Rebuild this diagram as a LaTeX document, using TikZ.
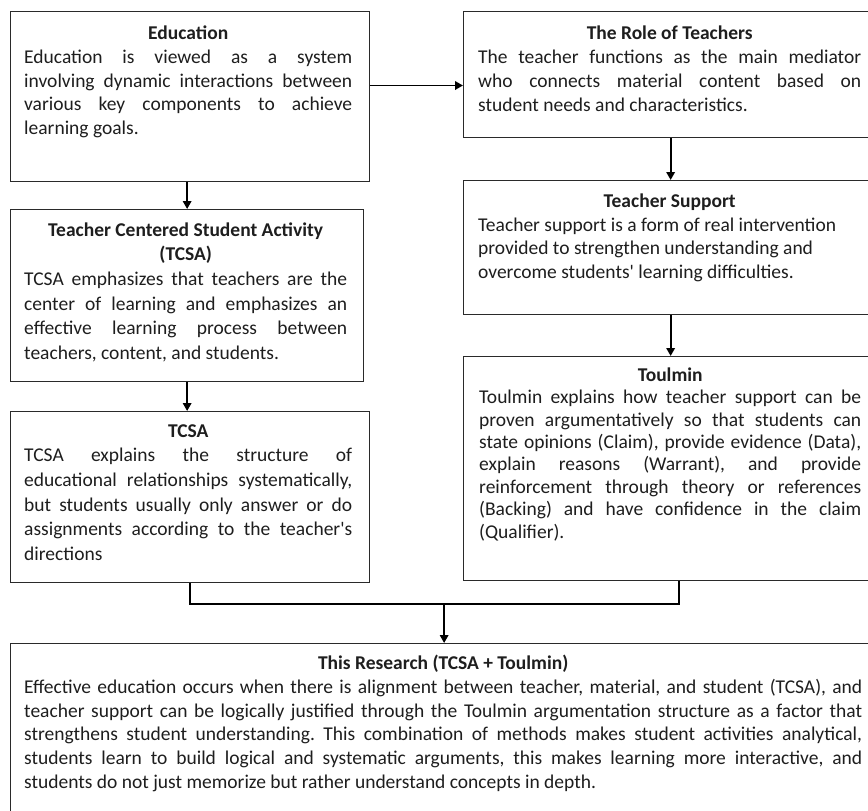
\documentclass[tikz,border=0pt]{standalone}
\usepackage{fontspec}
\setmainfont{Carlito}
\newfontfamily\plainfont{Carlito}
\usetikzlibrary{arrows.meta,calc}
\definecolor{ink}{HTML}{1E1E1E}
\definecolor{edgecol}{HTML}{2A2A2A}
\frenchspacing
\newsavebox\jbox
\newcommand{\jline}[1]{\sbox\jbox{#1}\ifdim\wd\jbox>\linewidth
  \pgfmathsetmacro\jr{\linewidth/\wd\jbox}\scalebox{\jr}[1]{\usebox\jbox}\else
  \makebox[\linewidth][s]{#1}\fi}
\newcommand{\ctitle}[1]{\makebox[\linewidth][c]{\bfseries #1}}
\newcommand{\fst}{\spaceskip=0pt\xspaceskip=0pt\relax\rule{0pt}{14pt}}
\newcommand{\apos}{{\plainfont\char"27\relax}}
\begin{document}
\begin{tikzpicture}[x=1pt,y=-1pt,
  box/.style={draw=edgecol, line width=1.3pt, fill=white, inner sep=0pt, anchor=north west},
  txt/.style={anchor=north west, inner sep=0pt, align=left, text=ink},
  conn/.style={draw=black, line width=1.8pt},
  arr/.style={conn, -{Triangle[length=8pt,width=8.5pt]}}]
\useasboundingbox (0,0) rectangle (868,811);
\fill[white] (0,0) rectangle (868,811);
\clip (0,0) rectangle (868,811);

% boxes
\node[box, minimum width=359pt, minimum height=170pt] (edu) at (10,11) {};
\node[box, minimum width=414pt, minimum height=126pt] (role) at (463,11) {};
\node[box, minimum width=353pt, minimum height=172pt] (tcsaact) at (10,209) {};
\node[box, minimum width=414pt, minimum height=134pt] (support) at (463,180) {};
\node[box, minimum width=359pt, minimum height=171pt] (tcsa) at (10,411) {};
\node[box, minimum width=414pt, minimum height=224pt] (toulmin) at (463,356) {};
\node[box, minimum width=867pt, minimum height=190pt] (research) at (10,643) {};

% texts
\node[txt, text width=328pt, font=\fontsize{19.5}{23.75}\selectfont] (edut) at (24,25.5) {%
\fst\ctitle{Education}\\
\jline{Education is viewed as a system}\\
\jline{involving dynamic interactions between}\\
\jline{various key components to achieve}\\
learning goals.};

\node[txt, text width=383pt, font=\fontsize{19.5}{24}\selectfont] (rolet) at (478,25.5) {%
\fst\ctitle{The Role of Teachers}\\
\jline{The teacher functions as the main mediator}\\
\jline{who connects material content based on}\\
student needs and characteristics.};

\node[txt, text width=383pt, font=\fontsize{19.5}{23.6}\selectfont] (supportt) at (478,193.5) {%
\fst\ctitle{Teacher Support}\\
Teacher support is a form of real intervention\\
provided to strengthen understanding and\\
overcome students\apos\ learning difficulties.};

\node[txt, text width=382pt, font=\fontsize{19.5}{22.4}\selectfont] (toulmint) at (479,367) {%
\fst\ctitle{Toulmin}\\
\jline{Toulmin explains how teacher support can be}\\
\jline{proven argumentatively so that students can}\\
\jline{state opinions (Claim), provide evidence (Data),}\\
\jline{explain reasons (Warrant), and provide}\\
\jline{reinforcement through theory or references}\\
\jline{(Backing) and have confidence in the claim}\\
(Qualifier).};

\node[txt, text width=323pt, font=\fontsize{19.5}{24.6}\selectfont] (tcsaactt) at (24,222) {%
\fst\ctitle{Teacher Centered Student Activity}\\
\ctitle{(TCSA)}\\
\jline{TCSA emphasizes that teachers are the}\\
\jline{center of learning and emphasizes an}\\
\jline{effective learning process between}\\
teachers, content, and students.};

\node[txt, text width=328pt, font=\fontsize{19.5}{24.6}\selectfont] (tcsat) at (24,423) {%
\fst\ctitle{TCSA}\\
\jline{TCSA explains the structure of}\\
\jline{educational relationships systematically,}\\
\jline{but students usually only answer or do}\\
\jline{assignments according to the teacher\apos s}\\
directions};

\node[txt, text width=838pt, font=\fontsize{19.5}{23.75}\selectfont] (researcht) at (24,655) {%
\fst\ctitle{This Research (TCSA + Toulmin)}\\
\jline{Effective education occurs when there is alignment between teacher, material, and student (TCSA), and}\\
\jline{teacher support can be logically justified through the Toulmin argumentation structure as a factor that}\\
\jline{strengthens student understanding. This combination of methods makes student activities analytical,}\\
\jline{students learn to build logical and systematic arguments, this makes learning more interactive, and}\\
students do not just memorize but rather understand concepts in depth.};

% connectors
\coordinate (a) at ($(edu.north east)!0.435!(edu.south east)$);
\draw[arr] (a) -- (a -| role.west);
\draw[arr] (tcsaact.north |- edu.south) -- (tcsaact.north);
\draw[arr] (tcsaact.south) -- (tcsa.north -| tcsaact.south);
\draw[arr] (role.south) -- (support.north);
\draw[arr] (support.south) -- (toulmin.north);
\coordinate (j) at ($(research.north)+(0,-39)$);
\coordinate (tb) at ($(toulmin.south)+(8,0)$);
\draw[conn] (tcsa.south) |- (j) -| (tb);
\draw[arr] (j) -- (research.north);
\end{tikzpicture}
\end{document}
